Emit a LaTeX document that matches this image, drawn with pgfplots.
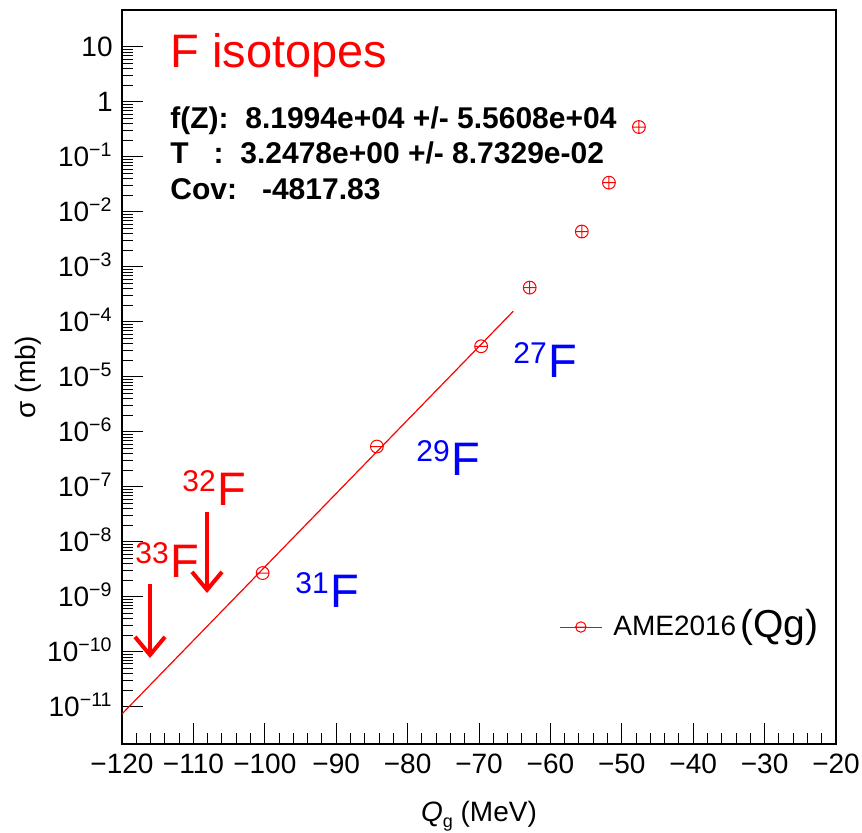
\documentclass[border=0pt]{standalone}
\usepackage{fontspec}
\setmainfont{Liberation Sans}
\usepackage{pgfplots}
\pgfplotsset{compat=1.18}
\usetikzlibrary{arrows.meta}
\pgfdeclareplotmark{ominus}{%
 \pgfpathcircle{\pgfpointorigin}{\pgfplotmarksize}%
 \pgfpathmoveto{\pgfqpoint{-\pgfplotmarksize}{0pt}}%
 \pgfpathlineto{\pgfqpoint{\pgfplotmarksize}{0pt}}%
 \pgfusepathqstroke}
\definecolor{rootblue}{RGB}{0,0,255}
\definecolor{rootred}{RGB}{255,0,0}
\newcommand{\iso}[2]{\raisebox{7pt}{\fontsize{15}{16}\selectfont #1}\kern1pt #2}
\begin{document}
\begin{tikzpicture}
\begin{axis}[
 scale only axis, width=357pt, height=367pt,
 xmin=-120, xmax=-20, ymode=log, ymin=2.1e-12, ymax=47,
 axis line style={line width=0.6pt},
 tick align=inside, tick pos=left,
 major tick length=10.5pt, minor tick length=5.5pt,
 every tick/.style={black, line width=0.5pt},
 xtick={-120,-110,...,-20},
 xticklabels={−120,−110,−100,−90,−80,−70,−60,−50,−40,−30,−20},
 minor x tick num=4,
 ytickten={-11,...,1},
 yticklabels={10\textsuperscript{−11},10\textsuperscript{−10},10\textsuperscript{−9},10\textsuperscript{−8},10\textsuperscript{−7},10\textsuperscript{−6},10\textsuperscript{−5},10\textsuperscript{−4},10\textsuperscript{−3},10\textsuperscript{−2},10\textsuperscript{−1},1,10},
 ticklabel style={font=\fontsize{14}{16}\selectfont, inner sep=0pt},
 xticklabel style={anchor=base, yshift=-14.5pt},
 yticklabel style={anchor=base east, xshift=-4.5pt, yshift=-5pt},
 xlabel={\textit{Q}\raisebox{-3pt}{\fontsize{9}{10}\selectfont g} (MeV)},
 ylabel={σ (mb)},
 every axis x label/.style={at={(axis description cs:0.5,0)}, anchor=base, yshift=-38.5pt, font=\fontsize{14}{16}\selectfont},
 every axis y label/.style={at={(axis description cs:-0.1317,0.5)}, anchor=center, rotate=90, font=\fontsize{14}{16}\selectfont},
 legend style={at={(axis description cs:0.612,0.1594)}, anchor=west, draw=none, fill=none, inner sep=0pt,
   font=\fontsize{14}{16}\selectfont, nodes={inner sep=0pt},
   /tikz/every odd column/.append style={column sep=5.5pt}},
 legend image code/.code={\draw[mark repeat=2,mark phase=2,#1] plot coordinates {(0pt,0pt) (10.5pt,0pt) (21pt,0pt)};},
]
\addplot[rootred, line width=0.6pt, forget plot] coordinates {(-120,7.4e-12) (-65.2,1.56e-4)};
\addplot[rootred, only marks, mark=oplus, mark size=3.2pt, mark options={line width=0.5pt}, forget plot]
 coordinates {(-47.6,0.35) (-51.8,0.034) (-55.6,0.0044) (-62.9,4.2e-4)};
\addplot[rootred, only marks, mark=ominus, mark size=3.2pt, mark options={line width=0.5pt}, forget plot]
 coordinates {(-69.7,3.6e-5) (-84.3,5.4e-7) (-100.3,2.7e-9)};
\addlegendimage{rootred, line width=0.5pt, mark=ominus, mark size=2.6pt}
\addlegendentry{AME2016}
\end{axis}
\begin{scope}[x=0.5pt,y=0.5pt]
\node[anchor=base west, inner sep=0pt, text=rootred, font=\fontsize{23.5}{26}\selectfont] at (48,676) {F isotopes};
\node[anchor=base west, inner sep=0pt, font=\fontsize{15}{18}\selectfont\bfseries] at (48,616) {f(Z):~~8.1994e+04 +/- 5.5608e+04};
\node[anchor=base west, inner sep=0pt, font=\fontsize{15}{18}\selectfont\bfseries] at (48,581) {T~~~:~~3.2478e+00 +/- 8.7329e-02};
\node[anchor=base west, inner sep=0pt, font=\fontsize{15}{18}\selectfont\bfseries] at (48,545) {Cov:~~~-4817.83};
\node[anchor=base west, inner sep=0pt, text=rootblue, font=\fontsize{23.5}{26}\selectfont] at (391,367) {\iso{27}{F}};
\node[anchor=base west, inner sep=0pt, text=rootblue, font=\fontsize{23.5}{26}\selectfont] at (294,269) {\iso{29}{F}};
\node[anchor=base west, inner sep=0pt, text=rootblue, font=\fontsize{23.5}{26}\selectfont] at (173,137) {\iso{31}{F}};
\node[anchor=base west, inner sep=0pt, text=rootred, font=\fontsize{23.5}{26}\selectfont] at (60,239) {\iso{32}{F}};
\node[anchor=base west, inner sep=0pt, text=rootred, font=\fontsize{23.5}{26}\selectfont] at (13,167) {\iso{33}{F}};
\draw[rootred, line width=2pt, -{Straight Barb[length=9pt,width=15pt]}] (85,232) -- (85,151);
\draw[rootred, line width=2pt, -{Straight Barb[length=9pt,width=15pt]}] (28,160) -- (28,86);
\node[anchor=base west, inner sep=0pt, font=\fontsize{19.5}{22}\selectfont] at (618,107) {(Qg)};
\end{scope}
\pgfresetboundingbox
\path (-61pt,-44pt) rectangle (370pt,372pt);
\end{tikzpicture}
\end{document}
